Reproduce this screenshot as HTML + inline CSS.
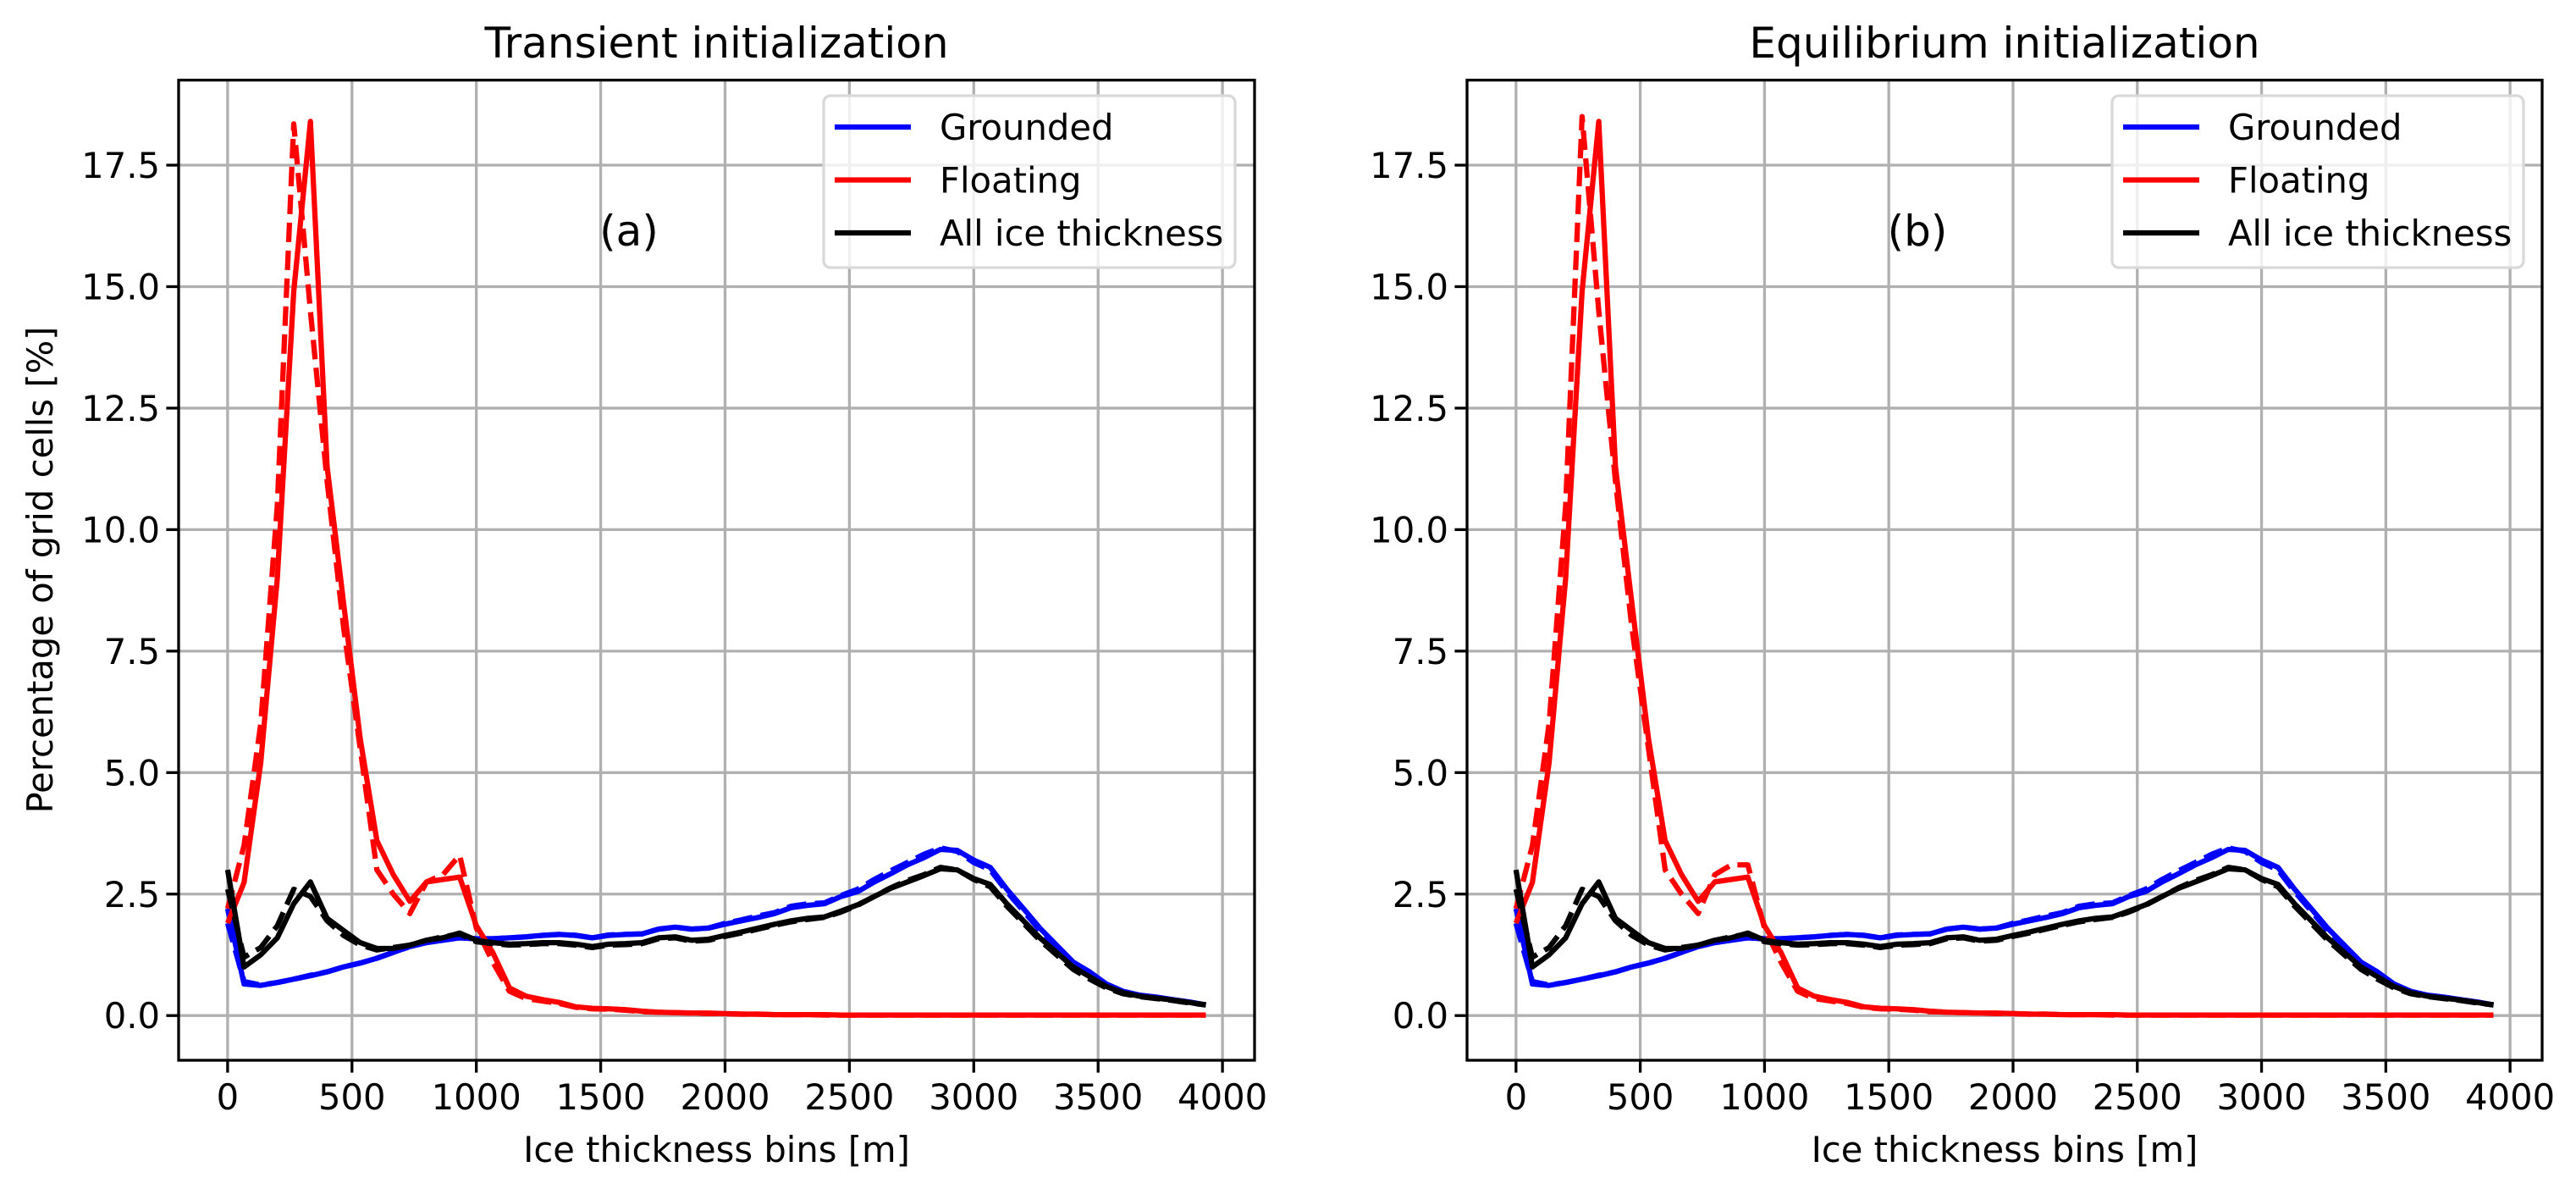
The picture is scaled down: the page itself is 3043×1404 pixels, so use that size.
<!DOCTYPE html>
<html><head><meta charset="utf-8"><style>
html,body{margin:0;padding:0;background:#fff}
svg{display:block;font-family:"DejaVu Sans","Liberation Sans",sans-serif}
</style></head><body>
<svg id="fig" width="3043" height="1404" viewBox="0 0 3043 1404" xmlns="http://www.w3.org/2000/svg"></svg>
<script>
const thickness = [0,66,133,200,266,333,400,466,533,600,666,733,800,866,933,1000,1066,1133,1200,1266,1333,1400,1466,1533,1600,1666,1733,1800,1866,1933,2000,2066,2133,2200,2266,2333,2400,2466,2533,2600,2666,2733,2800,2866,2933,3000,3066,3133,3200,3266,3333,3400,3466,3533,3600,3666,3733,3800,3866,3933];
const groundedSolid = [2.2,0.65,0.62,0.68,0.75,0.82,0.9,1.0,1.08,1.18,1.3,1.42,1.5,1.55,1.6,1.58,1.58,1.6,1.62,1.65,1.67,1.65,1.6,1.65,1.67,1.68,1.78,1.82,1.78,1.8,1.88,1.95,2.02,2.1,2.22,2.27,2.3,2.45,2.55,2.75,2.92,3.1,3.25,3.42,3.4,3.2,3.05,2.6,2.2,1.8,1.45,1.1,0.9,0.65,0.5,0.42,0.38,0.33,0.28,0.22];
const groundedDashed = [1.9,0.7,0.63,0.68,0.75,0.83,0.9,1.0,1.08,1.18,1.3,1.42,1.5,1.56,1.6,1.58,1.58,1.6,1.62,1.65,1.67,1.65,1.6,1.66,1.67,1.68,1.78,1.82,1.78,1.8,1.9,1.97,2.05,2.12,2.25,2.3,2.32,2.47,2.6,2.8,2.98,3.15,3.32,3.45,3.38,3.15,3.0,2.55,2.15,1.75,1.4,1.05,0.85,0.6,0.48,0.42,0.37,0.32,0.27,0.22];
const floatingSolid = [1.9,2.74,5.2,9.0,14.9,18.4,11.3,8.5,5.7,3.6,2.9,2.35,2.75,2.8,2.85,1.85,1.3,0.57,0.4,0.33,0.27,0.18,0.15,0.14,0.12,0.09,0.07,0.06,0.05,0.05,0.04,0.03,0.03,0.02,0.02,0.02,0.02,0.01,0.01,0.01,0.01,0.01,0.01,0.01,0.01,0.01,0.01,0.01,0.01,0.01,0.01,0.01,0.01,0.01,0.01,0.01,0.01,0.01,0.01,0.01];
const floatingDashedA = [2.2,3.5,6.0,10.5,18.35,14.5,11.0,8.0,5.5,3.0,2.5,2.1,2.75,2.9,3.3,1.8,1.1,0.5,0.35,0.3,0.25,0.17,0.14,0.13,0.11,0.08,0.07,0.06,0.05,0.04,0.04,0.03,0.03,0.02,0.02,0.02,0.01,0.01,0.01,0.01,0.01,0.01,0.01,0.01,0.01,0.01,0.01,0.01,0.01,0.01,0.01,0.01,0.01,0.01,0.01,0.01,0.01,0.01,0.01,0.01];
const floatingDashedB = [2.2,3.5,6.0,10.5,18.5,14.5,11.0,8.0,5.5,3.0,2.5,2.1,2.9,3.1,3.1,1.8,1.1,0.5,0.35,0.3,0.25,0.17,0.14,0.13,0.11,0.08,0.07,0.06,0.05,0.04,0.04,0.03,0.03,0.02,0.02,0.02,0.01,0.01,0.01,0.01,0.01,0.01,0.01,0.01,0.01,0.01,0.01,0.01,0.01,0.01,0.01,0.01,0.01,0.01,0.01,0.01,0.01,0.01,0.01,0.01];
const allSolid = [3.0,1.0,1.25,1.6,2.3,2.75,2.0,1.75,1.5,1.38,1.38,1.45,1.55,1.6,1.7,1.55,1.5,1.47,1.48,1.5,1.5,1.47,1.42,1.47,1.48,1.5,1.6,1.62,1.55,1.57,1.65,1.72,1.8,1.88,1.95,2.0,2.03,2.15,2.28,2.45,2.62,2.75,2.88,3.02,3.0,2.82,2.7,2.3,1.95,1.6,1.3,1.0,0.8,0.6,0.47,0.4,0.36,0.32,0.27,0.22];
const allDashed = [2.6,1.2,1.4,1.85,2.6,2.45,1.95,1.65,1.45,1.35,1.4,1.45,1.55,1.62,1.68,1.52,1.48,1.45,1.46,1.48,1.48,1.45,1.4,1.45,1.46,1.48,1.58,1.6,1.53,1.55,1.63,1.7,1.78,1.86,1.93,1.98,2.02,2.13,2.27,2.45,2.63,2.78,2.9,3.05,3.0,2.8,2.65,2.25,1.9,1.55,1.25,0.95,0.75,0.57,0.45,0.39,0.35,0.31,0.26,0.22];
const xTicks = [0,500,1000,1500,2000,2500,3000,3500,4000];
const yTicks = [0,2.5,5,7.5,10,12.5,15,17.5];
const yTickLabels = ["0.0","2.5","5.0","7.5","10.0","12.5","15.0","17.5"];
const legendLabels = ["Grounded","Floating","All ice thickness"];

const NS = "http://www.w3.org/2000/svg";
const svg = document.getElementById('fig');
function mk(tag, attrs, parent){const e=document.createElementNS(NS,tag);for(const k in attrs)e.setAttribute(k,attrs[k]);(parent||svg).appendChild(e);return e;}

const X0=-197, X1=4129, Y0=-0.92, Y1=19.25;
function panel(left, right, title, tag, fDash, nameP){
  const top=94.6, bottom=1252;
  const sx=v=>left+(v-X0)/(X1-X0)*(right-left);
  const sy=v=>bottom-(v-Y0)/(Y1-Y0)*(bottom-top);
  const g=mk('g',{});
  
  
  xTicks.forEach(t=>{const l=mk('line',{x1:sx(t),x2:sx(t),y1:top,y2:bottom,stroke:'#b0b0b0','stroke-width':3.3},g);
    
    });
  yTicks.forEach(t=>{const l=mk('line',{x1:left,x2:right,y1:sy(t),y2:sy(t),stroke:'#b0b0b0','stroke-width':3.3},g);
    
    });
  const series=[[groundedSolid,'#0000ff',null,'grounded-solid'],[groundedDashed,'#0000ff','23,10','grounded-dashed'],
    [fDash,'#ff0000','23,10','floating-dashed'],[floatingSolid,'#ff0000',null,'floating-solid'],
    [allDashed,'#000000','23,10','all-dashed'],[allSolid,'#000000',null,'all-solid']];
  series.forEach(s=>{
    const d=s[0].map((v,i)=>(i?'L':'M')+sx(thickness[i]).toFixed(1)+','+sy(v).toFixed(1)).join(' ');
    const p=mk('path',{d:d,fill:'none',stroke:s[1],'stroke-width':6.25,'stroke-linejoin':'round'},g);
    if(s[2])p.setAttribute('stroke-dasharray',s[2]);
    
    
  });
  const fr=mk('rect',{x:left,y:top,width:right-left,height:bottom-top,fill:'none',stroke:'#000','stroke-width':3.3},g);
  
  
  xTicks.forEach(t=>{mk('line',{x1:sx(t),x2:sx(t),y1:bottom,y2:bottom+14.6,stroke:'#000','stroke-width':3.3},g);
    const tx=mk('text',{x:sx(t),y:bottom+58,'font-size':41.7,'text-anchor':'middle',fill:'#000'},g);tx.textContent=t;
    
    });
  yTicks.forEach((t,i)=>{mk('line',{x1:left-14.6,x2:left,y1:sy(t),y2:sy(t),stroke:'#000','stroke-width':3.3},g);
    const tx=mk('text',{x:left-22,y:sy(t)+15,'font-size':41.7,'text-anchor':'end',fill:'#000'},g);tx.textContent=yTickLabels[i];
    
    });
  const tt=mk('text',{x:(left+right)/2,y:68,'font-size':50,'text-anchor':'middle',fill:'#000'},g);tt.textContent=title;
  
  
  const xl=mk('text',{x:(left+right)/2,y:1372,'font-size':41.7,'text-anchor':'middle',fill:'#000'},g);xl.textContent='Ice thickness bins [m]';
  
  
  const tg=mk('text',{x:left+532,y:290,'font-size':50,'text-anchor':'middle',fill:'#000'},g);tg.textContent=tag;
  
  
  const lx=left+762, ly=113;
  const lg=mk('g',{},g);
  
  
  mk('rect',{x:lx,y:ly,width:486,height:203,rx:8,fill:'#fff','fill-opacity':0.8,stroke:'#d9d9d9','stroke-width':3.3},lg);
  ['#0000ff','#ff0000','#000000'].forEach((c,i)=>{
    const yy=ly+37+i*62.5;
    mk('line',{x1:lx+13,x2:lx+103,y1:yy,y2:yy,stroke:c,'stroke-width':6.25},lg);
    const t=mk('text',{x:lx+137,y:yy+15,'font-size':41.7,fill:'#000'},lg);t.textContent=legendLabels[i];
    
    
  });
}
panel(211,1482,'Transient initialization','(a)',floatingDashedA,'transient');
panel(1733,3003,'Equilibrium initialization','(b)',floatingDashedB,'equilibrium');
const yl=mk('text',{x:0,y:0,'font-size':41.7,'text-anchor':'middle',fill:'#000',transform:'translate(62,673) rotate(-90)'});
yl.textContent='Percentage of grid cells [%]';


</script>
</body></html>
